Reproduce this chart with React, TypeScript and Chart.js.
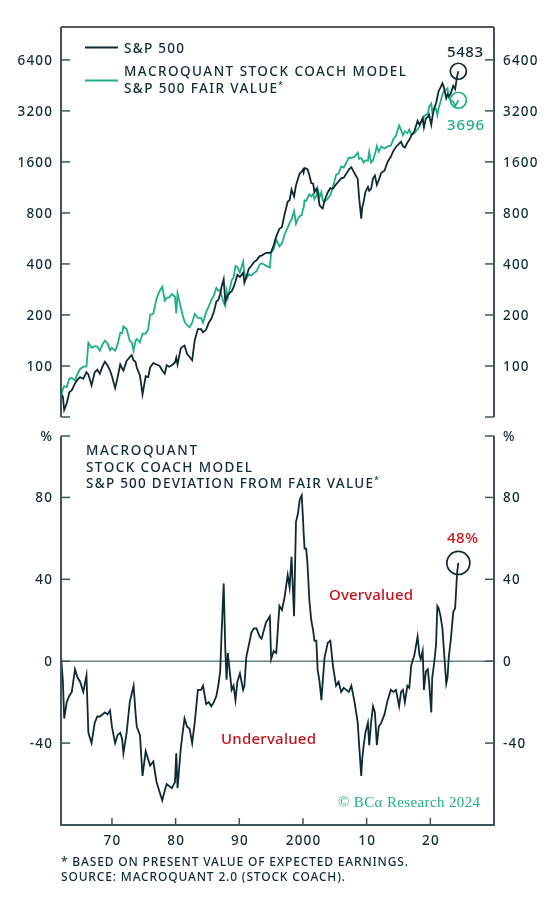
import React, { useEffect, useRef } from "react";
import { Chart, registerables } from "chart.js";

Chart.register(...registerables);

// ---------------- DATA ----------------
const years = [
  1962.0, 1962.3, 1962.5, 1962.9, 1963.3, 1963.7, 1964.2, 1964.6, 1965.0, 1965.5, 1966.0, 1966.3, 1966.8,
  1967.3, 1967.7, 1968.1, 1968.5, 1968.9, 1969.3, 1969.7, 1970.0, 1970.5, 1970.9, 1971.3, 1971.6, 1971.8,
  1972.3, 1972.8, 1973.1, 1973.4, 1973.7, 1973.9, 1974.4, 1974.8, 1975.3, 1975.7, 1976.0, 1976.5,
  1977.0, 1977.5, 1977.9, 1978.3, 1978.6, 1979.0, 1979.4, 1979.9, 1980.1, 1980.3, 1980.8, 1981.1, 1981.4, 1981.8,
  1982.2, 1982.6, 1983.0, 1983.5, 1984.0, 1984.3, 1984.8, 1985.2, 1985.6, 1986.0, 1986.4, 1986.7,
  1987.0, 1987.2, 1987.55, 1987.8, 1988.0, 1988.2, 1988.5, 1988.8, 1989.1, 1989.4, 1989.7, 1990.1, 1990.6, 1990.8, 1991.1, 1991.5, 1991.9,
  1992.3, 1992.7, 1993.2, 1993.5, 1994.2, 1994.8, 1995.0, 1995.4, 1995.8, 1996.3, 1996.7, 1997.1, 1997.6, 1997.9, 1998.2, 1998.6, 1998.9,
  1999.2, 1999.5, 1999.8, 2000.0, 2000.1, 2000.25, 2000.5, 2000.7, 2001.0, 2001.3, 2001.6, 2001.8, 2002.1, 2002.3, 2002.6, 2002.9, 2003.1, 2003.4, 2003.9,
  2004.3, 2004.7, 2005.2, 2005.6, 2006.0, 2006.4, 2006.8, 2007.2, 2007.6, 2008.1, 2008.6, 2008.8, 2009.15, 2009.3, 2009.5, 2009.8,
  2010.2, 2010.4, 2010.7, 2011.0, 2011.3, 2011.6, 2011.9, 2012.3, 2012.8, 2013.3, 2013.8, 2014.2, 2014.6, 2015.1, 2015.4, 2015.7,
  2016.0, 2016.4, 2016.7, 2017.0, 2017.5, 2018.0, 2018.3, 2018.5, 2018.8, 2019.0, 2019.3, 2019.6, 2019.8, 2020.15, 2020.3, 2020.6, 2020.9,
  2021.1, 2021.3, 2021.6, 2021.9, 2022.1, 2022.5, 2022.7, 2022.9, 2023.2, 2023.6, 2023.9, 2024.2, 2024.4,
];

const spx = [
  68, 66, 55, 60, 70, 72, 79, 83, 86, 84, 92, 89, 77,
  92, 95, 90, 99, 106, 101, 94, 87, 74, 86, 102, 97, 94,
  107, 113, 116, 108, 106, 98, 88, 68, 87, 86, 98, 104,
  102, 100, 94, 90, 101, 99, 101, 105, 112, 102, 127, 130, 132, 118,
  113, 108, 142, 165, 165, 158, 164, 180, 190, 208, 240, 245,
  265, 292, 325, 240, 252, 262, 270, 275, 292, 315, 345, 335, 355, 310, 335, 375, 390,
  410, 420, 445, 448, 465, 465, 470, 515, 580, 645, 660, 780, 930, 950, 1100, 1000, 1160,
  1270, 1370, 1400, 1440, 1390, 1470, 1460, 1450, 1340, 1200, 1190, 1060, 1110, 1070, 890, 860, 850, 950, 1060,
  1120, 1110, 1180, 1230, 1280, 1290, 1360, 1440, 1490, 1370, 1270, 1000, 740, 860, 920, 1060,
  1140, 1080, 1110, 1280, 1330, 1170, 1250, 1380, 1420, 1600, 1720, 1860, 1960, 2050, 2100, 1980,
  1940, 2080, 2160, 2280, 2430, 2790, 2650, 2750, 2900, 2560, 2880, 2950, 3040, 2650, 2900, 3300, 3550,
  3850, 4180, 4400, 4650, 4450, 3800, 4000, 3900, 4050, 4500, 4300, 5100, 5483,
];

const fairValue = [
  66, 73, 76, 75, 84, 85, 82, 90, 96, 99, 99, 137, 128,
  131, 130, 123, 134, 141, 136, 124, 128, 123, 134, 157, 156, 171,
  165, 141, 138, 123, 141, 144, 138, 155, 155, 165, 200, 204,
  249, 278, 294, 243, 253, 254, 266, 256, 204, 268, 223, 200, 183, 174,
  169, 180, 203, 192, 192, 180, 208, 225, 244, 260, 289, 278,
  279, 261, 236, 226, 277, 252, 284, 320, 332, 389, 383, 356, 413, 352, 328, 347, 342,
  353, 362, 397, 404, 391, 381, 465, 490, 558, 508, 528, 595, 655, 699, 728, 820, 690,
  738, 765, 773, 847, 853, 948, 942, 980, 1031, 1000, 1035, 964, 1009, 1115, 989, 1062, 944, 931, 972,
  1018, 1133, 1341, 1367, 1506, 1483, 1581, 1694, 1693, 1713, 1814, 1667, 1682, 1654, 1586, 1631,
  1629, 1831, 1586, 1641, 1773, 1983, 1838, 1971, 1919, 1975, 2000, 2188, 2279, 2628, 2471, 2302,
  2425, 2364, 2483, 2327, 2359, 2491, 2573, 2723, 2762, 2977, 3032, 3073, 3378, 3533, 3152, 3333, 3287,
  3031, 3317, 3607, 4009, 4159, 4270, 4348, 3824, 3682, 3629, 3413, 3566, 3696,
];

const deviation = [
  3, -10, -28, -20, -17, -15, -4, -8, -10, -15, -7, -35, -40,
  -30, -27, -27, -26, -25, -26, -24, -32, -40, -36, -35, -38, -45,
  -35, -20, -16, -12, -25, -32, -36, -56, -44, -48, -51, -49,
  -59, -64, -68, -63, -60, -61, -62, -59, -45, -62, -43, -35, -28, -32,
  -33, -40, -30, -14, -14, -12, -21, -20, -22, -20, -17, -12,
  -5, 12, 38, 6, -9, 4, -5, -14, -12, -19, -10, -6, -14, -12, 2, 8, 14,
  16, 16, 12, 11, 19, 22, 1, 5, 4, 27, 25, 31, 42, 36, 51, 22, 68,
  72, 79, 81, 70, 63, 55, 55, 48, 30, 20, 15, 10, 10, -4, -10, -19, -10, 2, 9,
  10, -2, -12, -10, -15, -13, -14, -15, -12, -20, -30, -40, -56, -48, -42, -35,
  -30, -41, -30, -22, -25, -41, -32, -30, -26, -19, -14, -15, -14, -22, -15, -14,
  -20, -12, -13, -2, 3, 12, 3, 1, 5, -14, -5, -4, -10, -25, -8, -1, 8,
  27, 26, 22, 16, 7, -11, -8, 2, 10, 24, 26, 43, 48,
];

const priceTicks = [100, 200, 400, 800, 1600, 3200, 6400];
const priceTickLabels = ["100", "200", "400", "800", "1600", "3200", "6400"];
const deviationTicks = [-40, 0, 40, 80];
const deviationTickLabels = ["-40", "0", "40", "80"];
const yearTicks = [1970, 1980, 1990, 2000, 2010, 2020];
const yearTickLabels = ["70", "80", "90", "2000", "10", "20"];

const legendLabels = ["S&P 500", "MACROQUANT STOCK COACH MODEL", "S&P 500 FAIR VALUE"];
const lowerTitle = ["MACROQUANT", "STOCK COACH MODEL", "S&P 500 DEVIATION FROM FAIR VALUE"];
const footnotes = ["* BASED ON PRESENT VALUE OF EXPECTED EARNINGS.", "SOURCE: MACROQUANT 2.0 (STOCK COACH)."];

// ---------------- STYLE ----------------
const SANS = "'Noto Sans', Lato, sans-serif";
const TEXT = "#0f2d37";
const DARK = "#0e2a33";
const GREEN = "#1fae87";
const RED = "#c3121e";
const AXIS = "#3e555b";
const ZERO = "#6d8086";

type Opts = { font: string; color: string; align?: "left" | "right" | "center"; spacing?: number; width?: number };

function drawText(ctx: CanvasRenderingContext2D, text: string, x: number, y: number, o: Opts) {
  ctx.font = o.font;
  ctx.fillStyle = o.color;
  ctx.textAlign = "left";
  ctx.textBaseline = "alphabetic";
  (ctx as any).letterSpacing = "0px";
  const n = Array.from(text).length;
  const raw = ctx.measureText(text).width;
  let sp = o.spacing ?? 0;
  if (o.width != null && n > 1) sp = (o.width - raw) / (n - 1);
  const visible = raw + sp * (n - 1);
  let sx = x;
  if (o.align === "right") sx = x - visible;
  else if (o.align === "center") sx = x - visible / 2;
  (ctx as any).letterSpacing = `${sp}px`;
  ctx.fillText(text, sx, y);
  (ctx as any).letterSpacing = "0px";
  return sx + visible;
}

function seg(ctx: CanvasRenderingContext2D, x1: number, y1: number, x2: number, y2: number) {
  ctx.beginPath();
  ctx.moveTo(x1, y1);
  ctx.lineTo(x2, y2);
  ctx.stroke();
}

const TICK_FONT = `500 13.5px ${SANS}`;
const LABEL_FONT = `500 13.5px ${SANS}`;

const topDecor = {
  id: "topDecor",
  afterDraw(chart: any) {
    const { ctx, chartArea: a, scales } = chart;
    const y = scales.y;
    const x = scales.x;
    ctx.save();
    // top frame line
    ctx.strokeStyle = "#1b1f20";
    ctx.lineWidth = 1.5;
    seg(ctx, a.left, a.top, a.right, a.top);
    // side axes
    ctx.strokeStyle = AXIS;
    ctx.lineWidth = 2;
    seg(ctx, a.left, a.top, a.left, a.bottom);
    seg(ctx, a.right, a.top, a.right, a.bottom);
    ctx.lineWidth = 1.5;
    const tickVals = [...priceTicks, y.min];
    tickVals.forEach((v) => {
      const py = y.getPixelForValue(v);
      seg(ctx, a.left, py, a.left + 9, py);
      seg(ctx, a.right - 9, py, a.right, py);
    });
    priceTicks.forEach((v, i) => {
      const py = y.getPixelForValue(v);
      drawText(ctx, priceTickLabels[i], a.left - 9, py + 5, { font: TICK_FONT, color: TEXT, align: "right", spacing: 1.2 });
      drawText(ctx, priceTickLabels[i], a.right + 9, py + 5, { font: TICK_FONT, color: TEXT, align: "left", spacing: 1.2 });
    });

    // legend
    ctx.lineWidth = 2;
    ctx.strokeStyle = DARK;
    seg(ctx, 85, 47.5, 118, 47.5);
    ctx.strokeStyle = GREEN;
    seg(ctx, 85, 80.5, 118, 80.5);
    drawText(ctx, legendLabels[0], 124, 53, { font: LABEL_FONT, color: TEXT, width: 60 });
    drawText(ctx, legendLabels[1], 124, 76, { font: LABEL_FONT, color: TEXT, width: 282 });
    const end = drawText(ctx, legendLabels[2], 124, 93, { font: LABEL_FONT, color: TEXT, width: 153 });
    drawText(ctx, "*", end + 1, 88, { font: `9px ${SANS}`, color: TEXT });

    // end-point annotations
    const last = years.length - 1;
    const px = x.getPixelForValue(years[last]);
    const pyS = y.getPixelForValue(spx[last]);
    const pyF = y.getPixelForValue(fairValue[last]);
    ctx.lineWidth = 1.7;
    ctx.strokeStyle = DARK;
    ctx.beginPath();
    ctx.arc(px, pyS, 8, 0, Math.PI * 2);
    ctx.stroke();
    ctx.strokeStyle = GREEN;
    ctx.beginPath();
    ctx.arc(px, pyF, 8, 0, Math.PI * 2);
    ctx.stroke();
    drawText(ctx, String(spx[last]), 465, 56.5, { font: `500 15px ${SANS}`, color: DARK, align: "center", width: 36 });
    drawText(ctx, String(fairValue[last]), 465.5, 130, { font: `500 15px ${SANS}`, color: GREEN, align: "center", width: 37 });
    ctx.restore();
  },
};

const bottomDecor = {
  id: "bottomDecor",
  beforeDatasetsDraw(chart: any) {
    const { ctx, chartArea: a, scales } = chart;
    const py = scales.y.getPixelForValue(0);
    ctx.save();
    ctx.strokeStyle = ZERO;
    ctx.lineWidth = 1.5;
    seg(ctx, a.left, py, a.right, py);
    ctx.restore();
  },
  afterDraw(chart: any) {
    const { ctx, chartArea: a, scales } = chart;
    const y = scales.y;
    const x = scales.x;
    ctx.save();
    ctx.strokeStyle = AXIS;
    ctx.lineWidth = 2;
    seg(ctx, a.left, a.top, a.left, a.bottom + 1);
    seg(ctx, a.right, a.top, a.right, a.bottom + 1);
    seg(ctx, a.left - 1, a.bottom, a.right + 1, a.bottom);
    ctx.lineWidth = 1.5;
    [...deviationTicks, y.max].forEach((v) => {
      const py = y.getPixelForValue(v);
      seg(ctx, a.left, py, a.left + 9, py);
      seg(ctx, a.right - 9, py, a.right, py);
    });
    yearTicks.forEach((v) => {
      const px = x.getPixelForValue(v);
      seg(ctx, px, a.bottom, px, a.bottom - 7);
    });
    deviationTicks.forEach((v, i) => {
      const py = y.getPixelForValue(v);
      drawText(ctx, deviationTickLabels[i], a.left - 9, py + 5, { font: TICK_FONT, color: TEXT, align: "right", spacing: 1.2 });
      drawText(ctx, deviationTickLabels[i], a.right + 9, py + 5, { font: TICK_FONT, color: TEXT, align: "left", spacing: 1.2 });
    });
    const pTop = y.getPixelForValue(y.max);
    drawText(ctx, "%", a.left - 9, pTop + 5, { font: TICK_FONT, color: TEXT, align: "right" });
    drawText(ctx, "%", a.right + 9, pTop + 5, { font: TICK_FONT, color: TEXT, align: "left" });
    yearTicks.forEach((v, i) => {
      const px = x.getPixelForValue(v);
      drawText(ctx, yearTickLabels[i], px, a.bottom + 20, { font: TICK_FONT, color: TEXT, align: "center", spacing: 1.2 });
    });

    // title
    drawText(ctx, lowerTitle[0], 86, 455, { font: LABEL_FONT, color: TEXT, width: 111 });
    drawText(ctx, lowerTitle[1], 86, 471.5, { font: LABEL_FONT, color: TEXT, width: 166 });
    const end = drawText(ctx, lowerTitle[2], 86, 488, { font: LABEL_FONT, color: TEXT, width: 287 });
    drawText(ctx, "*", end + 1, 483, { font: `9px ${SANS}`, color: TEXT });

    // region labels
    drawText(ctx, "Overvalued", 329, 600, { font: `500 15px ${SANS}`, color: RED, width: 84 });
    drawText(ctx, "Undervalued", 221, 744, { font: `500 15px ${SANS}`, color: RED, width: 95 });

    // end-point annotation
    const last = years.length - 1;
    const px = x.getPixelForValue(years[last]);
    const py = y.getPixelForValue(deviation[last]);
    ctx.strokeStyle = DARK;
    ctx.lineWidth = 1.7;
    ctx.beginPath();
    ctx.arc(px, py, 11.5, 0, Math.PI * 2);
    ctx.stroke();
    drawText(ctx, `${deviation[last]}%`, 462.5, 543, { font: `500 15px ${SANS}`, color: RED, align: "center", width: 31 });

    // copyright
    drawText(ctx, "\u00A9 BC\u03B1 Research 2024", 338, 807, { font: `15px 'Liberation Serif', 'DejaVu Serif', serif`, color: GREEN, width: 142 });

    // footnotes
    const FF = `500 12px ${SANS}`;
    drawText(ctx, footnotes[0], 61, 866, { font: FF, color: TEXT, width: 347 });
    drawText(ctx, footnotes[1], 61, 881, { font: FF, color: TEXT, width: 284 });
    ctx.restore();
  },
};

function hiddenY(position: "left" | "right", type: string, min: number, max: number, width: number) {
  return {
    type,
    position,
    min,
    max,
    display: true,
    grid: { display: false, drawTicks: false },
    border: { display: false },
    ticks: { display: false },
    afterFit: (s: any) => {
      s.width = width;
    },
  };
}

function topConfig(): any {
  return {
    type: "line",
    data: {
      datasets: [
        {
          label: legendLabels[0],
          data: years.map((t, i) => ({ x: t, y: spx[i] })),
          borderColor: DARK,
          borderWidth: 1.8,
          pointRadius: 0,
          tension: 0,
          yAxisID: "y",
        },
        {
          label: legendLabels[2],
          data: years.map((t, i) => ({ x: t, y: fairValue[i] })),
          borderColor: GREEN,
          borderWidth: 1.8,
          pointRadius: 0,
          tension: 0,
          yAxisID: "y",
        },
      ],
    },
    options: {
      responsive: false,
      animation: false,
      events: [],
      layout: { padding: { top: 27, bottom: 908 - 417, left: 0, right: 0 } },
      plugins: { legend: { display: false }, tooltip: { enabled: false } },
      scales: {
        x: { type: "linear", min: 1962, max: 2030, display: false },
        y: hiddenY("left", "logarithmic", 50, 10000, 61),
        y2: hiddenY("right", "logarithmic", 50, 10000, 66),
      },
    },
    plugins: [topDecor],
  };
}

function bottomConfig(): any {
  return {
    type: "line",
    data: {
      datasets: [
        {
          label: lowerTitle[2],
          data: years.map((t, i) => ({ x: t, y: deviation[i] })),
          borderColor: DARK,
          borderWidth: 1.8,
          pointRadius: 0,
          tension: 0,
          yAxisID: "y",
        },
      ],
    },
    options: {
      responsive: false,
      animation: false,
      events: [],
      layout: { padding: { top: 436, bottom: 908 - 825, left: 0, right: 0 } },
      plugins: { legend: { display: false }, tooltip: { enabled: false } },
      scales: {
        x: { type: "linear", min: 1962, max: 2030, display: false },
        y: hiddenY("left", "linear", -80, 110, 61),
        y2: hiddenY("right", "linear", -80, 110, 66),
      },
    },
    plugins: [bottomDecor],
  };
}

export default function App() {
  const topRef = useRef<HTMLCanvasElement>(null);
  const botRef = useRef<HTMLCanvasElement>(null);
  useEffect(() => {
    const c1 = new Chart(topRef.current as HTMLCanvasElement, topConfig());
    const c2 = new Chart(botRef.current as HTMLCanvasElement, bottomConfig());
    return () => {
      c1.destroy();
      c2.destroy();
    };
  }, []);
  const cs: React.CSSProperties = { position: "absolute", left: 0, top: 0, width: 560, height: 908 };
  return (
    <div style={{ position: "absolute", left: 0, top: 0, width: 560, height: 908, background: "#ffffff", overflow: "hidden" }}>
      <canvas ref={topRef} width={560} height={908} style={cs} />
      <canvas ref={botRef} width={560} height={908} style={cs} />
    </div>
  );
}
